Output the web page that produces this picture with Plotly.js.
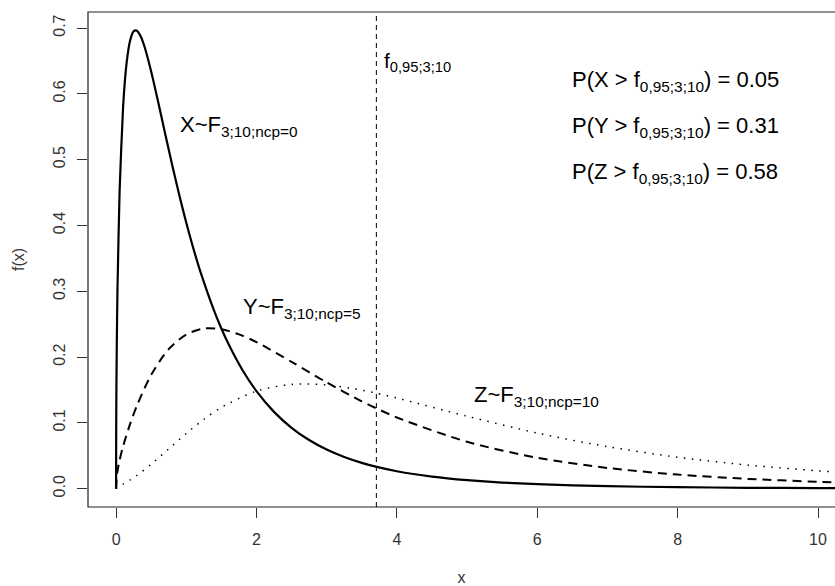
<!DOCTYPE html>
<html><head><meta charset="utf-8">
<script src="https://cdn.plot.ly/plotly-3.0.1.min.js"></script>
<style>html,body{margin:0;padding:0;background:#fff;}</style>
</head><body><div id="chart" style="width:835px;height:586px;"></div>
<script>
// X ~ F(3,10), ncp = 0 (solid)
const xCentral = [0, 0.002, 0.005, 0.01, 0.02, 0.05, 0.1, 0.15, 0.2, 0.25, 0.28, 0.3, 0.35, 0.4, 0.5, 0.6, 0.7, 0.8, 0.9, 1, 1.1, 1.2, 1.4, 1.5, 1.6, 1.8, 2, 2.25, 2.5, 2.75, 3, 3.25, 3.5, 3.7, 4, 4.5, 5, 5.5, 6, 7, 8, 9, 10, 10.4];
const yCentral = [0, 0.0991, 0.1557, 0.2181, 0.3025, 0.4515, 0.5804, 0.6470, 0.6811, 0.6950, 0.6965, 0.6957, 0.6876, 0.6734, 0.6340, 0.5875, 0.5390, 0.4915, 0.4462, 0.4041, 0.3654, 0.3302, 0.2694, 0.2434, 0.2201, 0.1803, 0.1482, 0.1167, 0.0925, 0.0739, 0.0594, 0.0481, 0.0392, 0.0334, 0.0264, 0.0183, 0.0129, 0.00925, 0.00675, 0.00376, 0.00221, 0.00135, 0.00086, 0.00072];
// Y ~ F(3,10), ncp = 5 (dashed)
const xNcp5 = [0, 0.01, 0.02, 0.05, 0.1, 0.2, 0.3, 0.5, 0.75, 1, 1.25, 1.5, 1.75, 2, 2.5, 3, 3.5, 3.7, 4, 5, 6, 7, 8, 9, 10, 10.4];
const yNcp5 = [0, 0.0185, 0.0265, 0.0433, 0.0644, 0.0984, 0.1270, 0.1729, 0.2121, 0.2343, 0.2434, 0.2421, 0.2345, 0.2228, 0.1927, 0.1614, 0.1328, 0.1225, 0.1082, 0.0712, 0.0470, 0.0315, 0.0214, 0.0148, 0.0105, 0.0091];
// Z ~ F(3,10), ncp = 10 (dotted)
const xNcp10 = [0, 0.01, 0.02, 0.05, 0.1, 0.2, 0.3, 0.5, 0.75, 1, 1.25, 1.5, 2, 2.5, 3, 3.5, 3.7, 4, 5, 6, 7, 8, 9, 10, 10.4];
const yNcp10 = [0, 0.0016, 0.0023, 0.0041, 0.0070, 0.0132, 0.0204, 0.0372, 0.0605, 0.0839, 0.1054, 0.1235, 0.1482, 0.1584, 0.1577, 0.1497, 0.1453, 0.1377, 0.1101, 0.0845, 0.0638, 0.0478, 0.0359, 0.0271, 0.0243];

const critX = 3.708;
const xTicks = [0, 2, 4, 6, 8, 10];
const yTicks = [0, 0.1, 0.2, 0.3, 0.4, 0.5, 0.6, 0.7];
const yTickText = ["0.0", "0.1", "0.2", "0.3", "0.4", "0.5", "0.6", "0.7"];
const curveLabels = ["X~F<sub>3;10;ncp=0</sub>", "Y~F<sub>3;10;ncp=5</sub>", "Z~F<sub>3;10;ncp=10</sub>"];
const probLabels = ["P(X > f<sub>0,95;3;10</sub>) = 0.05", "P(Y > f<sub>0,95;3;10</sub>) = 0.31", "P(Z > f<sub>0,95;3;10</sub>) = 0.58"];
const critLabel = "f<sub>0,95;3;10</sub>";

const FONT = "Liberation Sans, Arial, Helvetica, sans-serif";

const traces = [
  {x: xCentral, y: yCentral, type: 'scatter', mode: 'lines', line: {color: '#000', width: 2.2, shape: 'spline', smoothing: 0.5}, hoverinfo: 'skip'},
  {x: xNcp5, y: yNcp5, type: 'scatter', mode: 'lines', line: {color: '#000', width: 2, dash: '9px,6px', shape: 'spline', smoothing: 0.8}, hoverinfo: 'skip'},
  {x: xNcp10, y: yNcp10, type: 'scatter', mode: 'lines', line: {color: '#000', width: 1.5, dash: '1.5px,6.5px', shape: 'spline', smoothing: 0.8}, hoverinfo: 'skip'}
];

const curvePos = [[0.90, 0.551], [1.80, 0.274], [5.09, 0.141]];
const probPos = [[6.48, 0.620], [6.48, 0.549], [6.48, 0.480]];

const annotations = [];
curveLabels.forEach((t, i) => annotations.push({x: curvePos[i][0], y: curvePos[i][1], xref: 'x', yref: 'y', text: t, showarrow: false, xanchor: 'left', yanchor: 'middle', borderpad: 0, font: {family: FONT, size: 22, color: '#000'}}));
probLabels.forEach((t, i) => annotations.push({x: probPos[i][0], y: probPos[i][1], xref: 'x', yref: 'y', text: t, showarrow: false, xanchor: 'left', yanchor: 'middle', borderpad: 0, font: {family: FONT, size: 22, color: '#000'}}));
annotations.push({x: critX + 0.1, y: 0.648, xref: 'x', yref: 'y', text: critLabel, showarrow: false, xanchor: 'left', yanchor: 'middle', borderpad: 0, font: {family: FONT, size: 21, color: '#000'}});

const layout = {
  width: 835, height: 586,
  margin: {l: 88, r: 0, t: 12, b: 79, pad: 0},
  paper_bgcolor: '#fff', plot_bgcolor: '#fff',
  showlegend: false,
  font: {family: FONT, size: 16, color: '#000'},
  xaxis: {
    range: [-0.4, 10.242], tickvals: xTicks, ticktext: xTicks.map(String),
    ticks: 'outside', ticklen: 10, tickwidth: 1, tickcolor: '#333',
    ticklabelstandoff: 8,
    showgrid: false, zeroline: false, showline: false,
    tickfont: {family: FONT, size: 16, color: '#333'},
    title: {text: 'x', font: {family: FONT, size: 16, color: '#333'}, standoff: 24}
  },
  yaxis: {
    range: [-0.02786, 0.72436], tickvals: yTicks, ticktext: yTickText,
    ticks: 'outside', ticklen: 10, tickwidth: 1, tickcolor: '#333', tickangle: -90,
    ticklabelstandoff: 6,
    showgrid: false, zeroline: false, showline: false,
    tickfont: {family: FONT, size: 16, color: '#333'},
    title: {text: 'f(x)', font: {family: FONT, size: 16, color: '#333'}, standoff: 21}
  },
  shapes: [
    {type: 'rect', xref: 'paper', yref: 'paper', x0: 0, x1: 1.05, y0: 0, y1: 1, line: {color: '#222', width: 1.2}, fillcolor: 'rgba(0,0,0,0)'},
    {type: 'line', xref: 'x', yref: 'paper', x0: critX, x1: critX, y0: 0, y1: 1, line: {color: '#000', width: 1, dash: '5px,4px'}}
  ],
  annotations: annotations
};

Plotly.newPlot('chart', traces, layout, {staticPlot: true, displayModeBar: false});
</script>
</body></html>
